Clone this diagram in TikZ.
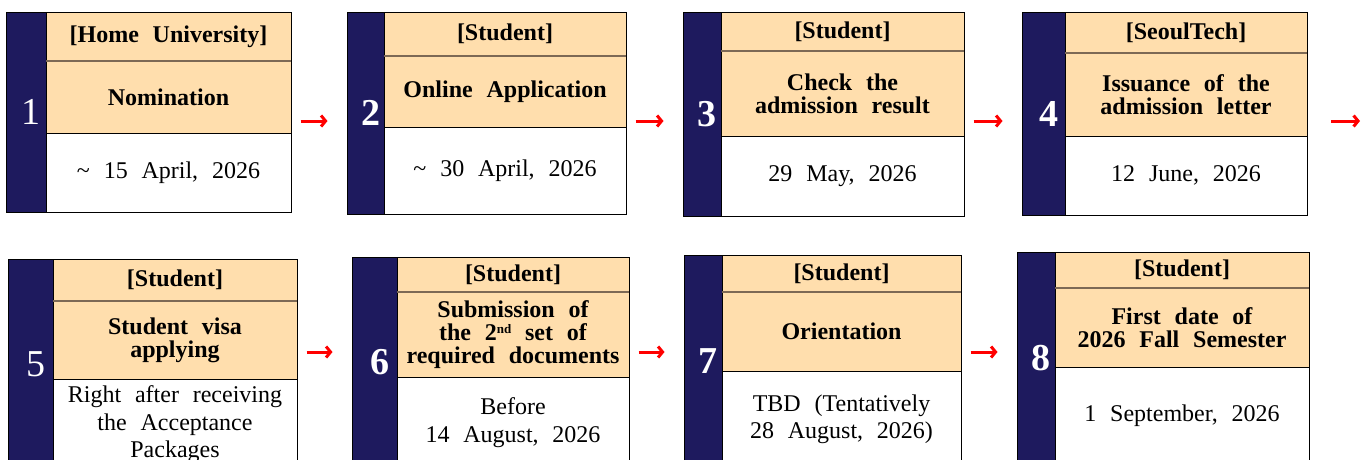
\documentclass[tikz,border=0pt]{standalone}
\usepackage{fontspec}
\setmainfont{Liberation Serif}[WordSpace=2.3]
\usepackage{xcolor}
\usepackage{tikz}
\usetikzlibrary{arrows.meta}
\definecolor{navyband}{RGB}{30,26,94}
\definecolor{peach}{RGB}{255,222,173}
\definecolor{divline}{RGB}{125,105,85}

\begin{document}
\begin{tikzpicture}[x=1pt, y=-1pt,
	every node/.style={inner sep=0pt, outer sep=0pt, anchor=north west, line width=1pt},
	num/.style={draw, fill=navyband, text=white, font=\fontsize{38}{38}\selectfont\bfseries,
		execute at begin node={\hspace*{10pt}}},
	head/.style={draw, fill=peach, align=center, font=\fontsize{24}{23}\selectfont\bfseries},
	when/.style={draw, fill=white, align=center, font=\fontsize{24}{27.5}\selectfont},
	divider/.style={draw=divline, line width=1.2pt},
	flow/.style={red, line width=3pt, -{Straight Barb[length=4.5pt,width=11pt]},
		shorten <=9.5pt, shorten >=19.5pt}]
	
	\path[use as bounding box, clip] (0,0) rectangle (1362,459);
	
	\coordinate (r1) at (0,121);
	\coordinate (r2) at (0,352);
	\coordinate (out) at (1360,121);
	
	% first row
	\node[num, font=\fontsize{38}{38}\selectfont, minimum width=40, minimum height=200] (n1) at (6,12) {1};
	\node[head, minimum width=245, minimum height=49] (h1) at (46,12) {[Home University]};
	\node[head, minimum width=245, minimum height=72] (t1) at (46,61) {Nomination};
	\node[when, minimum width=245, minimum height=79] (w1) at (46,133) {\textasciitilde{} 15 April, 2026};
	
	\node[num, minimum width=37, minimum height=202] (n2) at (347,12) {2};
	\node[head, minimum width=242, minimum height=44] (h2) at (384,12) {[Student]};
	\node[head, minimum width=242, minimum height=71] (t2) at (384,56) {Online Application};
	\node[when, minimum width=242, minimum height=87] (w2) at (384,127) {\textasciitilde{} 30 April, 2026};
	
	\node[num, minimum width=38, minimum height=204] (n3) at (683,12) {3};
	\node[head, minimum width=243, minimum height=39] (h3) at (721,12) {[Student]};
	\node[head, minimum width=243, minimum height=85] (t3) at (721,51) {Check the\\admission result};
	\node[when, minimum width=243, minimum height=80] (w3) at (721,136) {29 May, 2026};
	
	\node[num, minimum width=43, minimum height=203] (n4) at (1022,12) {4};
	\node[head, minimum width=242, minimum height=41] (h4) at (1065,12) {[SeoulTech]};
	\node[head, minimum width=242, minimum height=83] (t4) at (1065,53) {Issuance of the\\admission letter};
	\node[when, minimum width=242, minimum height=79] (w4) at (1065,136) {12 June, 2026};
	
	% second row
	\node[num, font=\fontsize{38}{38}\selectfont, minimum width=45, minimum height=211] (n5) at (8,259) {5};
	\node[head, minimum width=244, minimum height=42] (h5) at (53,259) {[Student]};
	\node[head, minimum width=244, minimum height=78] (t5) at (53,301) {Student visa\\applying};
	\node[when, minimum width=244, minimum height=91] (w5) at (53,379) {Right after receiving\\the Acceptance\\Packages};
	
	\node[num, minimum width=45, minimum height=211] (n6) at (352,257) {6};
	\node[head, minimum width=232, minimum height=35] (h6) at (397,257) {[Student]};
	\node[head, minimum width=232, minimum height=85] (t6) at (397,292) {Submission of\\the 2{\fontsize{13}{13}\selectfont\raisebox{7pt}{nd}} set of\\required documents};
	\node[when, minimum width=232, minimum height=91] (w6) at (397,377) {Before\\14 August, 2026};
	
	\node[num, minimum width=38, minimum height=213] (n7) at (684,255) {7};
	\node[head, minimum width=239, minimum height=37] (h7) at (722,255) {[Student]};
	\node[head, minimum width=239, minimum height=79] (t7) at (722,292) {Orientation};
	\node[when, minimum width=239, minimum height=97] (w7) at (722,371) {TBD (Tentatively\\28 August, 2026)};
	
	\node[num, minimum width=38, minimum height=213] (n8) at (1017,252) {8};
	\node[head, minimum width=254, minimum height=36] (h8) at (1055,252) {[Student]};
	\node[head, minimum width=254, minimum height=79] (t8) at (1055,288) {First date of\\2026 Fall Semester};
	\node[when, minimum width=254, minimum height=98] (w8) at (1055,367) {1 September, 2026};
	
	\draw[divider] (h1.south west) -- (h1.south east);
	\draw[divider] (h2.south west) -- (h2.south east);
	\draw[divider] (h3.south west) -- (h3.south east);
	\draw[divider] (h4.south west) -- (h4.south east);
	\draw[divider] (h5.south west) -- (h5.south east);
	\draw[divider] (h6.south west) -- (h6.south east);
	\draw[divider] (h7.south west) -- (h7.south east);
	\draw[divider] (h8.south west) -- (h8.south east);
	
	\path[flow]
	(t1.east |- r1) edge (n2.west |- r1)
	(t2.east |- r1) edge (n3.west |- r1)
	(t3.east |- r1) edge (n4.west |- r1)
	(t5.east |- r2) edge (n6.west |- r2)
	(t6.east |- r2) edge (n7.west |- r2)
	(t7.east |- r2) edge (n8.west |- r2)
	;
	\draw[flow, shorten <=24pt, shorten >=0pt] (t4.east |- r1) -- (out);
\end{tikzpicture}
\end{document}
